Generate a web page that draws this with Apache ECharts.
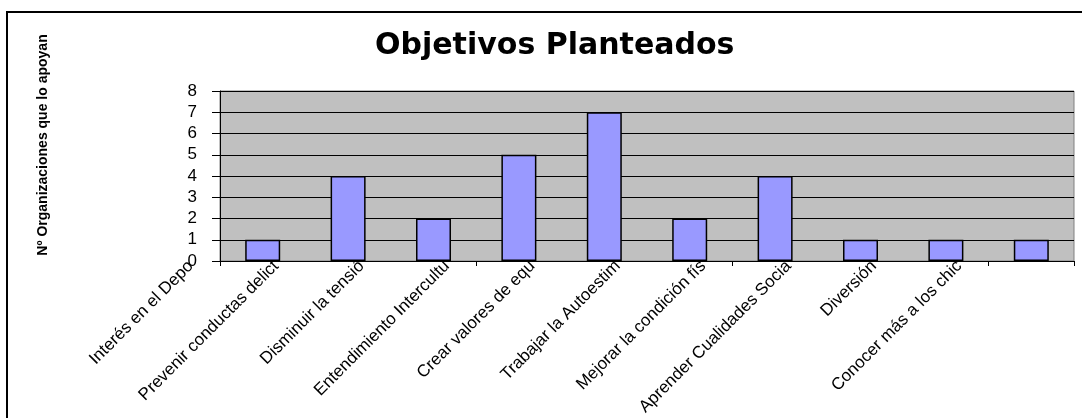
<!DOCTYPE html>
<html lang="es">
<head>
    <meta charset="UTF-8">
    <title>Objetivos Planteados</title>
    <script src="https://cdn.jsdelivr.net/npm/echarts@6/dist/echarts.min.js"></script>
    <style>
        html, body { margin: 0; padding: 0; background: #fff; }
        #main { width: 1082px; height: 418px; }
    </style>
</head>
<body>
    <div id="main"></div>
    <script>
        // datos del gráfico
        var categorias = [
            'Interés en el Depo',
            'Prevenir conductas delict',
            'Disminuir la tensió',
            'Entendimiento Intercultu',
            'Crear valores de equ',
            'Trabajar la Autoestim',
            'Mejorar la condición fís',
            'Aprender Cualidades Socia',
            'Diversión',
            'Conocer más a los chic'
        ];
        var organizaciones = [1, 4, 2, 5, 7, 2, 4, 1, 1, 1];
        var ticksY = [0, 1, 2, 3, 4, 5, 6, 7, 8];

        var myChart = echarts.init(document.getElementById('main'));

        var option = {
            animation: false,
            title: {
                text: 'Objetivos Planteados',
                left: 370,
                top: 26,
                textStyle: {
                    fontFamily: 'DejaVu Sans',
                    fontWeight: 'bold',
                    fontSize: 30,
                    color: '#000'
                }
            },
            graphic: [
                {
                    type: 'rect',
                    shape: { x: 7, y: 12, width: 1200, height: 600 },
                    style: { fill: 'none', stroke: '#000', lineWidth: 2 },
                    silent: true
                },
                {
                    type: 'text',
                    x: 43,
                    y: 145,
                    rotation: Math.PI / 2,
                    style: {
                        text: 'Nº Organizaciones que lo apoyan',
                        fontFamily: 'Liberation Sans',
                        fontWeight: 'bold',
                        fontSize: 14,
                        fill: '#000',
                        align: 'center',
                        verticalAlign: 'middle'
                    }
                }
            ],
            grid: [
                {
                    left: 220, right: 8, top: 91, bottom: 157,
                    show: true,
                    backgroundColor: '#C0C0C0',
                    borderColor: '#808080',
                    borderWidth: 1
                },
                // rejilla auxiliar solo para las etiquetas desplazadas
                { left: 148, right: 80, top: 91, bottom: 157 }
            ],
            xAxis: [
                {
                    type: 'category',
                    gridIndex: 0,
                    data: categorias,
                    axisLine: { lineStyle: { color: '#000', width: 1 } },
                    axisTick: { show: true, length: 5, lineStyle: { color: '#000' } },
                    axisLabel: { show: false }
                },
                {
                    type: 'category',
                    gridIndex: 1,
                    data: categorias,
                    axisLine: { show: false },
                    axisTick: { show: false },
                    axisLabel: {
                        interval: 0,
                        rotate: 45,
                        margin: 10,
                        fontFamily: 'Liberation Sans',
                        fontSize: 17,
                        color: '#000'
                    }
                }
            ],
            yAxis: [
                {
                    type: 'value',
                    gridIndex: 0,
                    min: ticksY[0],
                    max: ticksY[ticksY.length - 1],
                    interval: 1,
                    axisLine: { show: true, lineStyle: { color: '#000', width: 1 } },
                    axisTick: { show: true, length: 8, lineStyle: { color: '#000' } },
                    splitLine: { show: true, lineStyle: { color: '#000', width: 1 } },
                    axisLabel: {
                        margin: 23,
                        fontFamily: 'Liberation Sans',
                        fontSize: 17,
                        color: '#000'
                    }
                },
                { type: 'value', gridIndex: 1, show: false }
            ],
            series: [
                {
                    name: 'Organizaciones',
                    type: 'bar',
                    xAxisIndex: 0,
                    yAxisIndex: 0,
                    data: organizaciones,
                    barWidth: 35,
                    itemStyle: {
                        color: '#9999FF',
                        borderColor: '#000',
                        borderWidth: 1.5
                    }
                }
            ]
        };

        myChart.setOption(option);
    </script>
</body>
</html>
